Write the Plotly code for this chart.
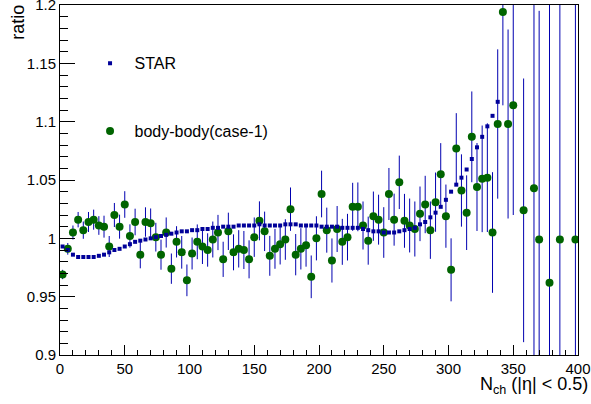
import plotly.graph_objects as go

# ---------------- data ----------------
star_x = [2, 6, 10, 14, 18, 22, 26, 30, 34, 38, 42, 46, 50, 54, 58, 62, 66, 70, 74, 78,
          82, 86, 90, 94, 98, 102, 106, 110, 114, 118, 122, 126, 130, 134, 138, 142, 146, 150, 154, 158,
          162, 166, 170, 174, 178, 182, 186, 190, 194, 198, 202, 206, 210, 214, 218, 222, 226, 230, 234, 238,
          242, 246, 250, 254, 258, 262, 266, 270, 274, 278, 282, 286, 290, 294, 298, 302, 306, 310, 314, 318,
          322, 326, 330, 334, 338]
star_y = [0.993, 0.990, 0.986, 0.984, 0.984, 0.984, 0.984, 0.985, 0.986, 0.988,
          0.990, 0.991, 0.993, 0.995, 0.997, 0.998, 0.999, 1.000, 1.001, 1.002,
          1.003, 1.004, 1.005, 1.006, 1.006, 1.007, 1.007, 1.008, 1.008, 1.009,
          1.009, 1.010, 1.010, 1.010, 1.011, 1.011, 1.011, 1.011, 1.012, 1.011,
          1.011, 1.011, 1.011, 1.012, 1.012, 1.012, 1.011, 1.011, 1.011, 1.011,
          1.010, 1.010, 1.010, 1.010, 1.009, 1.009, 1.009, 1.009, 1.008, 1.007,
          1.006, 1.006, 1.005, 1.005, 1.005, 1.006, 1.007, 1.008, 1.009, 1.012,
          1.014, 1.018, 1.022, 1.027, 1.033, 1.040, 1.046, 1.052, 1.059, 1.068,
          1.078, 1.087, 1.096, 1.105, 1.117]

bb_x = [2, 6, 10, 14, 18, 22, 26, 30, 34, 38, 42, 46, 50, 54, 58, 62, 66, 70, 74, 78,
        82, 86, 90, 94, 98, 102, 106, 110, 114, 118, 122, 126, 130, 134, 138, 142, 146, 150, 154, 158,
        162, 166, 170, 174, 178, 182, 186, 190, 194, 198, 202, 206, 210, 214, 218, 222, 226, 230, 234, 238,
        242, 246, 250, 254, 258, 262, 266, 270, 274, 278, 282, 286, 290, 294, 298, 302, 306, 310, 314, 318,
        322, 326, 330, 334, 338, 342, 346, 350, 358, 366, 370, 378, 386, 398]
bb_y = [0.969, 0.991, 1.005, 1.016, 1.007, 1.014, 1.016, 1.011, 1.010, 0.993,
        1.020, 1.010, 1.029, 1.002, 1.014, 0.986, 1.014, 1.013, 1.001, 0.986,
        1.005, 0.974, 0.997, 0.988, 0.964, 0.987, 0.997, 0.993, 0.990, 0.999,
        1.005, 0.982, 1.006, 0.988, 0.991, 0.990, 0.982, 1.001, 1.015, 1.006,
        0.985, 0.991, 0.995, 0.999, 1.025, 0.986, 0.991, 0.994, 0.967, 1.000,
        1.038, 1.007, 0.981, 1.008, 0.997, 1.001, 1.027, 1.027, 1.011, 0.998,
        1.019, 1.016, 1.005, 1.038, 1.016, 1.048, 1.015, 1.011, 1.008, 1.021,
        1.029, 1.007, 1.031, 1.055, 1.019, 0.973, 1.077, 1.041, 1.022, 1.087,
        1.044, 1.051, 1.052, 1.005, 1.098, 1.194, 1.098, 1.114, 1.024, 1.043,
        0.999, 0.962, 0.999, 0.999]
bb_err = [0.004, 0.005, 0.006, 0.0066, 0.0074, 0.0086, 0.0086, 0.008, 0.0094, 0.009,
          0.0103, 0.0103, 0.0114, 0.010, 0.0114, 0.0117, 0.0126, 0.0126, 0.0123, 0.0129,
          0.0129, 0.013, 0.0134, 0.014, 0.0136, 0.0137, 0.0149, 0.015, 0.0143, 0.0154,
          0.0151, 0.0151, 0.016, 0.0154, 0.016, 0.0163, 0.0163, 0.0169, 0.0167, 0.0169,
          0.0171, 0.0171, 0.0174, 0.0174, 0.0186, 0.0177, 0.0177, 0.0183, 0.0183, 0.0189,
          0.020, 0.0193, 0.0189, 0.0197, 0.0197, 0.020, 0.0206, 0.0209, 0.0206, 0.0206,
          0.0211, 0.0214, 0.0217, 0.0223, 0.0223, 0.0229, 0.0231, 0.0231, 0.0236, 0.0234,
          0.0246, 0.0246, 0.0254, 0.0266, 0.0271, 0.027, 0.0303, 0.031, 0.032, 0.0389,
          0.0377, 0.0457, 0.0466, 0.0517, 0.064, 0.080, 0.081, 0.094, 0.113, 0.25,
          0.196, 0.30, 0.25, 0.30]

y_major = [0.9, 0.95, 1.0, 1.05, 1.1, 1.15, 1.2]
y_major_text = ["0.9", "0.95", "1", "1.05", "1.1", "1.15", "1.2"]
y_minor = [round(0.9 + 0.01 * i, 2) for i in range(31)]
x_major = [0, 50, 100, 150, 200, 250, 300, 350, 400]
x_minor = [10 * i for i in range(41)]

FONT = "Liberation Sans, Arial, Helvetica, sans-serif"
NB = "\u00a0"

fig = go.Figure()

fig.add_trace(go.Scatter(
    x=bb_x, y=bb_y, mode="markers", name=NB + "body-body(case-1)",
    marker=dict(symbol="circle", size=8, color="#006400"),
    error_y=dict(type="data", array=bb_err, visible=True, color="#0000b0",
                 thickness=1, width=0),
    legend="legend2",
))

fig.add_trace(go.Scatter(
    x=star_x, y=star_y, mode="markers", name=NB + "STAR",
    marker=dict(symbol="square", size=4, color="#000099"),
    legend="legend",
))

axis_common = dict(
    showline=True, linecolor="black", linewidth=1, mirror=True,
    showgrid=False, zeroline=False, ticks="inside", tickcolor="black",
    tickwidth=1, tickfont=dict(family=FONT, size=15, color="black"),
    ticklabeloverflow="allow", automargin=False,
)

fig.update_layout(
    width=591, height=404,
    margin=dict(l=60, r=13, t=5, b=49),
    paper_bgcolor="white", plot_bgcolor="white",
    font=dict(family=FONT, color="black"),
    xaxis=dict(range=[0, 400], tickmode="array", tickvals=x_major, ticklen=10,
               minor=dict(tickmode="array", tickvals=x_minor, ticklen=5, ticks="inside",
                          tickcolor="black", showgrid=False),
               **axis_common),
    yaxis=dict(range=[0.9, 1.2], tickmode="array", tickvals=y_major,
               ticktext=y_major_text, ticklen=15,
               minor=dict(tickmode="array", tickvals=y_minor, ticklen=8, ticks="inside",
                          tickcolor="black", showgrid=False),
               **axis_common),
    showlegend=True,
    legend=dict(x=0.058, y=0.882, xanchor="left", yanchor="top",
                bgcolor="rgba(0,0,0,0)", font=dict(family=FONT, size=16)),
    legend2=dict(x=0.058, y=0.688, xanchor="left", yanchor="top",
                 bgcolor="rgba(0,0,0,0)", font=dict(family=FONT, size=16)),
    annotations=[
        dict(text="ratio", xref="paper", yref="paper", x=-0.081, y=1.005,
             xanchor="center", yanchor="top", textangle=-90, showarrow=False,
             font=dict(family=FONT, size=18)),
        dict(text="N<sub>ch</sub> (|η| &lt; 0.5)", xref="paper", yref="paper",
             x=1.024, y=-0.088, xanchor="right", yanchor="middle", showarrow=False,
             font=dict(family=FONT, size=18)),
    ],
)

fig.write_html("out.html")
